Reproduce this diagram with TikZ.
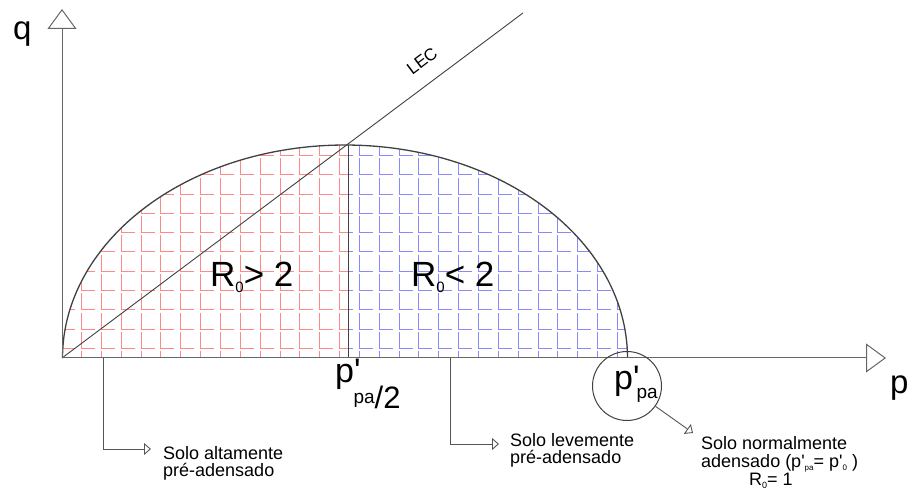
\documentclass[tikz,border=0pt]{standalone}
\usepackage{fontspec}
\setmainfont{Liberation Sans}[Ligatures=TeXOff]
\usetikzlibrary{arrows.meta}
\newcommand\fsz[1]{\fontsize{#1}{#1}\selectfont}
\definecolor{axisgray}{HTML}{666666}
\definecolor{conngray}{HTML}{555555}
\definecolor{curvegray}{HTML}{404040}
\definecolor{hatchred}{HTML}{FF8888}
\definecolor{hatchblue}{HTML}{8888FF}
\begin{document}
\begin{tikzpicture}[x=1pt,y=-1pt,
  axis/.style={draw=axisgray, line width=1pt, -{Triangle[open,length=20pt,width=29pt,fill=white]}},
  conn/.style={draw=conngray, line width=0.9pt, -{Triangle[open,length=7pt,width=12pt,fill=white]}},
  curve/.style={draw=curvegray, line width=1.3pt},
  thinline/.style={draw=curvegray, line width=0.9pt},
  hatchr/.style={draw=hatchred, line width=1pt},
  hatchb/.style={draw=hatchblue, line width=1pt},
  lbl/.style={inner sep=0pt, font=\fsz{18}, align=left},
  big/.style={inner sep=0pt, font=\fsz{34}}]
\useasboundingbox (0,0) rectangle (913,502);

% hatch patterns
\begin{scope}
  \clip (0,0) rectangle (348,358);
  \clip plot[domain=180:360,samples=120] ({345+282.5*cos(\x)},{358+213*sin(\x)}) -- cycle;
  \foreach \i in {-1,...,11}{\foreach \j in {-1,...,28}{
    \draw[hatchr] ({round(81+19.85*\j)+0.5},{round(348-19.3*\i)-15.5}) -- ++(0,16) -- ++(13,0);}}
\end{scope}
\begin{scope}
  \clip (348,0) rectangle (913,358);
  \clip plot[domain=180:360,samples=120] ({345+282.5*cos(\x)},{358+213*sin(\x)}) -- cycle;
  \foreach \i in {-1,...,11}{\foreach \j in {-1,...,28}{
    \draw[hatchb] ({round(81+19.85*\j)+0.5},{round(348-19.3*\i)-15.5}) -- ++(0,16) -- ++(13,0);}}
\end{scope}

% coordinates
\coordinate (o) at (62,358);
\coordinate (qtip) at (62,9);
\coordinate (ptip) at (886,358);
\coordinate (top) at (348,145);
\coordinate (foot) at (348,358);
\coordinate (lecend) at (523,13);

% curve, divider, LEC
\draw[curve] plot[domain=180:360,samples=120] ({345+282.5*cos(\x)},{358+213*sin(\x)});
\draw[thinline] (top) -- (foot);
\draw[thinline] (o) -- (lecend);
\node[rotate=36.8, inner sep=0pt, font=\fsz{17}] (lec) at (422,61) {LEC};

% axes
\draw[axis] (o) -- (qtip);
\draw[axis] (o) -- (ptip);
\node[big, anchor=base west, font=\fsz{33}] (qlbl) at (13,40) {q};
\node[big, anchor=base west, font=\fsz{33}] (plbl) at (890,394) {p};

% region labels
\node[big, anchor=base west, font=\fsz{35}] (rgt) at (210,287) {R\raisebox{-6pt}{\fsz{15}0}> 2};
\node[big, anchor=base west, font=\fsz{35}] (rlt) at (411,287) {R\raisebox{-6pt}{\fsz{15}0}< 2};

% p'pa/2
\node[big, anchor=base west] (half) at (335,383) {p'\hspace{-7pt}\raisebox{-21pt}{\fsz{19}pa}\raisebox{-26pt}{\fsz{31}/2}};

% circle around p'pa
\node[draw=curvegray, line width=1pt, circle, minimum size=69pt, inner sep=0pt] (pc) at (627,386) {};
\node[big, anchor=base west] (ppa) at (614,390) {p'\hspace{-3pt}\raisebox{-9pt}{\fsz{19}pa}};

% connectors
\coordinate (c1a) at (103,358);
\coordinate (c1e) at (151,449);
\coordinate (c2a) at (450,358);
\coordinate (c2e) at (499,444);
\coordinate (c3e) at (693,433);
\draw[conn] (c1a) |- (c1e);
\draw[conn] (c2a) |- (c2e);
\draw[conn] (pc) -- (c3e);

% bottom texts
\node[lbl, anchor=north west] (t1) at (163,446) {Solo altamente\\[-1pt]pré-adensado};
\node[lbl, anchor=north west] (t2) at (510,433) {Solo levemente\\[-1pt]pré-adensado};
\node[lbl, anchor=north west] (t3) at (701,436) {Solo normalmente\\[0pt]adensado (p'\raisebox{-3pt}{\fsz{8}pa}= p'\raisebox{-3pt}{\fsz{8}0} )\\[0pt]\hspace*{48pt}R\raisebox{-3pt}{\fsz{9}0}= 1};
\end{tikzpicture}
\end{document}
